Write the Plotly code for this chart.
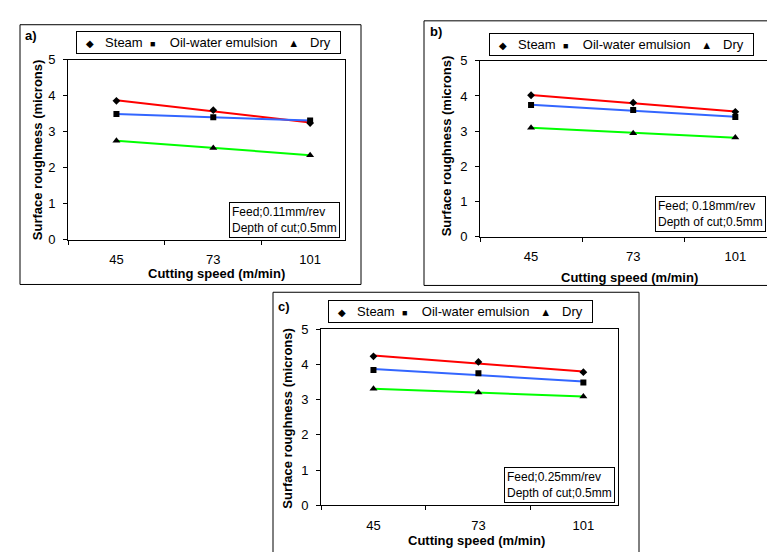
import numpy as np
import plotly.graph_objects as go

# ---------------- data ----------------
speeds = ["45", "73", "101"]
series_names = ["Steam", "Oil-water emulsion", "Dry"]

a_steam = [3.86, 3.60, 3.24]
a_oil = [3.49, 3.40, 3.31]
a_dry = [2.75, 2.55, 2.35]

b_steam = [4.02, 3.81, 3.55]
b_oil = [3.74, 3.60, 3.40]
b_dry = [3.10, 2.94, 2.82]

c_steam = [4.23, 4.07, 3.78]
c_oil = [3.84, 3.75, 3.49]
c_dry = [3.31, 3.20, 3.09]

panel_labels = ["a)", "b)", "c)"]
feed_notes = ["Feed;0.11mm/rev", "Feed; 0.18mm/rev", "Feed;0.25mm/rev"]
depth_note = "Depth of cut;0.5mm"
x_title = "Cutting speed (m/min)"
y_title = "Surface roughness (microns)"
y_ticks = [0, 1, 2, 3, 4, 5]

# ---------------- layout geometry (pixels) ----------------
W, H = 775, 552
FONT = "Liberation Sans, Arial, sans-serif"
NB = "\u00a0"


def X(px):
    return px / W


def Y(py):
    return 1 - py / H


panels = [
    dict(values=[a_steam, a_oil, a_dry], box=(12, 10, 353, 277), plot=(60, 46, 337, 231),
         xmax=2.36, legend=(200, 16), note=(332, 229), label=(23, 21),
         ytitle=(29, 139), xtitle=(209, 266)),
    dict(values=[b_steam, b_oil, b_dry], box=(416, 6, 774, 278), plot=(472, 47, 760, 228),
         xmax=2.32, legend=(613, 19), note=(758, 223), label=(428, 17),
         ytitle=(438, 135), xtitle=(621, 270)),
    dict(values=[c_steam, c_oil, c_dry], box=(265, 285, 631, 570), plot=(313, 323, 610, 504),
         xmax=2.33, legend=(452, 293), note=(607, 502), label=(276, 300),
         ytitle=(280, 415), xtitle=(468, 540)),
]

line_colors = ["#FF0000", "#3366FF", "#00FF00"]
symbols = ["diamond", "square", "triangle-up"]
marker_sizes = [6, 6, 7]
legend_glyphs = ["\u25c6", "\u25a0", "\u25b2"]
glyph_sizes = [10, 9, 11]

legend_text = (
    f"<span style='font-size:{glyph_sizes[0]}px'>{legend_glyphs[0]}</span>" + NB * 3 + series_names[0]
    + NB * 2 + f"<span style='font-size:{glyph_sizes[1]}px'>{legend_glyphs[1]}</span>" + NB * 4 + series_names[1]
    + NB * 3 + f"<span style='font-size:{glyph_sizes[2]}px'>{legend_glyphs[2]}</span>" + NB * 3 + series_names[2]
)

fig = go.Figure()
shapes = []
annotations = []
layout_axes = {}

for i, p in enumerate(panels):
    n = "" if i == 0 else str(i + 1)
    xa, ya = "x" + n, "y" + n
    idx = np.arange(len(speeds))
    for s, vals in enumerate(p["values"]):
        # linear trendline through the series
        k, b = np.polyfit(idx, np.array(vals), 1)
        trend = k * idx + b
        fig.add_trace(go.Scatter(
            x=speeds, y=trend, mode="lines", xaxis=xa, yaxis=ya,
            line=dict(color=line_colors[s], width=2), showlegend=False,
            hoverinfo="skip"))
    for s, vals in enumerate(p["values"]):
        fig.add_trace(go.Scatter(
            x=speeds, y=vals, mode="markers", xaxis=xa, yaxis=ya,
            name=series_names[s], showlegend=False,
            marker=dict(symbol=symbols[s], size=marker_sizes[s], color="black")))

    l, t, r, bt = p["plot"]
    layout_axes["xaxis" + n] = dict(
        domain=[X(l), X(r)], anchor=ya, type="category",
        categoryorder="array", categoryarray=speeds,
        range=[-0.5, p["xmax"]], tickson="boundaries", ticks="outside",
        ticklen=4, tickcolor="black", showline=True, linecolor="black",
        linewidth=1, mirror=True, showgrid=False, zeroline=False,
        tickfont=dict(size=13, color="black", family=FONT),
        ticklabelstandoff=8)
    layout_axes["yaxis" + n] = dict(
        domain=[Y(bt), Y(t)], anchor=xa, range=[0, 5], tickvals=y_ticks,
        ticks="outside", ticklen=4, tickcolor="black", showline=True,
        linecolor="black", linewidth=1, mirror=True, showgrid=False,
        zeroline=False, tickfont=dict(size=13, color="black", family=FONT),
        ticklabelstandoff=5)

    # legend box
    lx, ly = p["legend"]
    annotations.append(dict(
        xref="paper", yref="paper", x=X(lx), y=Y(ly), xanchor="center",
        yanchor="top", text=legend_text, showarrow=False, align="center",
        valign="middle", width=263, height=21, bgcolor="white",
        bordercolor="black", borderwidth=1, borderpad=0,
        font=dict(size=13, color="black", family=FONT)))

    bx0, by0, bx1, by1 = p["box"]
    shapes.append(dict(type="rect", xref="paper", yref="paper",
                       x0=X(bx0), x1=X(bx1), y0=Y(by1), y1=Y(by0),
                       line=dict(color="black", width=1), layer="below"))

    nx, ny = p["note"]
    annotations.append(dict(
        xref="paper", yref="paper", x=X(nx), y=Y(ny), xanchor="right",
        yanchor="bottom", text=feed_notes[i] + "<br>" + depth_note,
        showarrow=False, align="left", bgcolor="white", bordercolor="black",
        borderwidth=1, borderpad=2, font=dict(size=12, color="black", family=FONT)))

    px_, py_ = p["label"]
    annotations.append(dict(
        xref="paper", yref="paper", x=X(px_), y=Y(py_), xanchor="center",
        yanchor="middle", text="<b>" + panel_labels[i] + "</b>", showarrow=False,
        font=dict(size=13, color="black", family=FONT)))

    tx, ty = p["xtitle"]
    annotations.append(dict(
        xref="paper", yref="paper", x=X(tx), y=Y(ty), xanchor="center",
        yanchor="middle", text="<b>" + x_title + "</b>", showarrow=False,
        font=dict(size=13, color="black", family=FONT)))

    vx, vy = p["ytitle"]
    annotations.append(dict(
        xref="paper", yref="paper", x=X(vx), y=Y(vy), xanchor="center",
        yanchor="middle", text="<b>" + y_title + "</b>", showarrow=False,
        textangle=-90, font=dict(size=13, color="black", family=FONT)))

fig.update_layout(
    width=W, height=H, autosize=False,
    margin=dict(l=0, r=0, t=0, b=0),
    paper_bgcolor="white", plot_bgcolor="white",
    font=dict(family=FONT, color="black"),
    showlegend=False,
    shapes=shapes, annotations=annotations,
    **layout_axes)

fig.write_html("out.html")
